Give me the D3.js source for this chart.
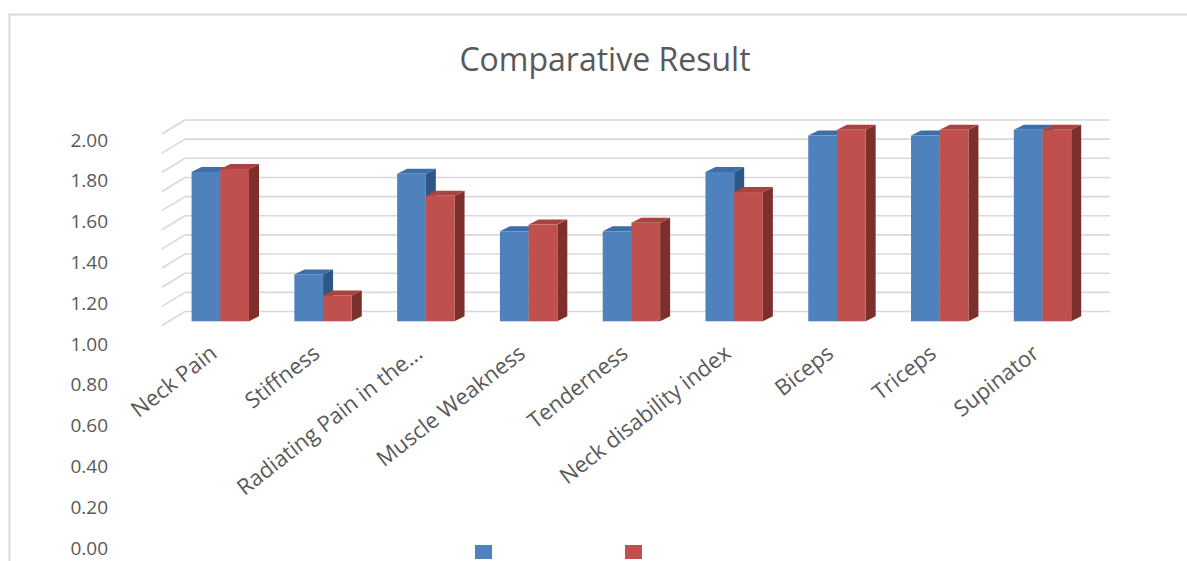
<!DOCTYPE html>
<html>
<head>
<meta charset="utf-8">
<script src="https://cdn.jsdelivr.net/npm/d3@7"></script>
<style>
  html, body { margin: 0; padding: 0; background: #fff; }
  svg { display: block; font-family: "Open Sans", "Segoe UI", sans-serif; }
</style>
</head>
<body>
<script>
// data
const categories = ['Neck Pain', 'Stiffness', 'Radiating Pain in the...', 'Muscle Weakness',
    'Tenderness', 'Neck disability index', 'Biceps', 'Triceps', 'Supinator']
const series = ['Series1', 'Series2']
const series1 = [1.56, 0.49, 1.54, 0.94, 0.94, 1.56, 1.94, 1.94, 2.00]
const series2 = [1.59, 0.27, 1.31, 1.01, 1.03, 1.35, 2.00, 2.00, 2.00]
const yTicks = [0, 0.2, 0.4, 0.6, 0.8, 1.0, 1.2, 1.4, 1.6, 1.8, 2.0]

const [width, height] = [1187, 561]
const colors = {
    front: ['#4f81bd', '#c0504d'],
    top:   ['#3d6ea8', '#a9433f'],
    side:  ['#2f5786', '#7d2f2c']
}
const textColor = '#595959'

// 3d-ish geometry (floor depth goes up and to the right)
const depth = { x: 23, y: -14 }
const barPlane = 0.3            // where the bar fronts sit inside the floor depth
const barDepth = { x: 10, y: -5 }

const svg = d3.select('body').append('svg')
    .attr('width', width)
    .attr('height', height)

// chart frame
svg.append('rect')
    .attr('x', 9.5).attr('y', 14.5)
    .attr('width', width + 20).attr('height', height + 20)
    .attr('fill', 'none')
    .attr('stroke', '#d9d9d9')
    .attr('stroke-width', 2)

svg.append('text')
    .attr('x', 605).attr('y', 71)
    .attr('text-anchor', 'middle')
    .attr('font-size', 32)
    .attr('fill', textColor)
    .text('Comparative Result')

// scales
const x = d3.scaleBand().domain(categories).range([162, 1087])           // front floor edge
const yWall = d3.scaleLinear().domain([0, 2]).range([311.5, 120])      // back wall
const yBar = v => yWall(v) - depth.y * (1 - barPlane)                  // bar front plane
const sub = d3.scaleBand().domain(series).range([0, 57.4])
const yLabel = d3.scaleLinear().domain([0, 2]).range([548, 140])      // axis labels as drawn

// back wall gridlines + side wall diagonals
const grid = svg.append('g').attr('stroke', '#d9d9d9').attr('stroke-width', 1.6).attr('fill', 'none')
grid.selectAll('line.wall')
    .data(yTicks)
    .enter()
    .append('line')
        .attr('x1', x.range()[0] + depth.x).attr('x2', x.range()[1] + depth.x)
        .attr('y1', d => yWall(d)).attr('y2', d => yWall(d))
grid.selectAll('line.side')
    .data(yTicks)
    .enter()
    .append('line')
        .attr('x1', x.range()[0]).attr('x2', x.range()[0] + depth.x)
        .attr('y1', d => yWall(d) - depth.y).attr('y2', d => yWall(d))

// bars
const barData = categories.flatMap((c, i) => [
    { cat: c, s: 0, v: series1[i] },
    { cat: c, s: 1, v: series2[i] }
])
const bw = sub.bandwidth()
const bx = d => x(d.cat) + x.bandwidth() / 2 + depth.x * barPlane - sub.range()[1] / 2 + sub(series[d.s])
const base = yBar(0)

const bars = svg.append('g').selectAll('g')
    .data(barData)
    .enter()
    .append('g')

bars.append('path')   // right side
    .attr('fill', d => colors.side[d.s])
    .attr('d', d => {
        const x0 = bx(d) + bw, yt = yBar(d.v)
        return `M${x0},${base}L${x0},${yt}L${x0 + barDepth.x},${yt + barDepth.y}L${x0 + barDepth.x},${base + barDepth.y}Z`
    })
bars.append('path')   // top
    .attr('fill', d => colors.top[d.s])
    .attr('d', d => {
        const x0 = bx(d), yt = yBar(d.v)
        return `M${x0},${yt}L${x0 + bw},${yt}L${x0 + bw + barDepth.x},${yt + barDepth.y}L${x0 + barDepth.x},${yt + barDepth.y}Z`
    })
bars.append('rect')   // front
    .attr('x', d => bx(d))
    .attr('y', d => yBar(d.v))
    .attr('width', bw)
    .attr('height', d => base - yBar(d.v))
    .attr('fill', d => colors.front[d.s])

// value axis labels
svg.append('g').selectAll('text')
    .data(yTicks)
    .enter()
    .append('text')
        .attr('x', 108)
        .attr('y', d => yLabel(d))
        .attr('dy', '0.35em')
        .attr('text-anchor', 'end')
        .attr('font-size', 19)
        .attr('fill', textColor)
        .text(d => d3.format('.2f')(d))

// category labels
svg.append('g').selectAll('text')
    .data(categories)
    .enter()
    .append('text')
        .attr('text-anchor', 'end')
        .attr('font-size', 22)
        .attr('fill', textColor)
        .attr('transform', d => `translate(${x(d) + x.bandwidth() / 2 + 5},${356}) rotate(-38)`)
        .text(d => d)

// legend (no series names in the original)
svg.append('g').selectAll('rect')
    .data(series)
    .enter()
    .append('rect')
        .attr('x', (d, i) => 475 + i * 150)
        .attr('y', 545)
        .attr('width', 17)
        .attr('height', 14)
        .attr('fill', (d, i) => colors.front[i])
</script>
</body>
</html>
